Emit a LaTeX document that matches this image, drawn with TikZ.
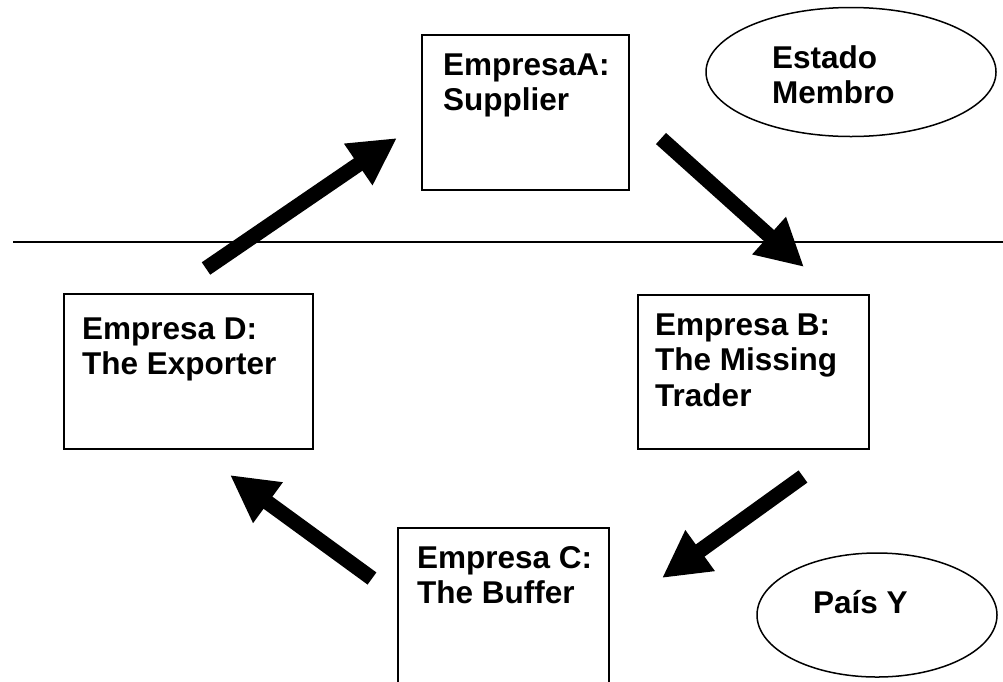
\documentclass[tikz,border=0pt]{standalone}
\usepackage{fontspec}
\setmainfont{Liberation Sans}
\usetikzlibrary{arrows.meta,shapes.geometric}
\begin{document}
\begin{tikzpicture}[x=1pt,y=-1pt,
  box/.style={draw,line width=1.5pt,inner sep=0pt,anchor=north west},
  oval/.style={draw,ellipse,line width=1.5pt,inner sep=0pt},
  lbl/.style={anchor=base west,inner sep=0pt,font=\fontsize{31.5}{35.5}\selectfont\bfseries},
  flow/.style={line width=15pt,-{Triangle[length=47pt,width=47pt]}}]
\clip (0,0) rectangle (1003,681);

% border line between the two zones
\coordinate (L) at (13,242);
\coordinate (R) at (1003,242);
\draw[line width=2pt] (L) -- (R);

% companies
\node[box,minimum width=207pt,minimum height=155pt] (A) at (421,34) {};
\node[box,minimum width=231pt,minimum height=154pt] (B) at (637,294) {};
\node[box,minimum width=211pt,minimum height=170pt] (C) at (397,527) {};
\node[box,minimum width=249pt,minimum height=155pt] (D) at (63,293) {};

\node[lbl] (Atext) at (443,75) {\vtop{\hbox{EmpresaA:}\hbox{Supplier}}};
\node[lbl] (Btext) at (655,335) {\vtop{\hbox{Empresa B:}\hbox{The Missing}\hbox{Trader}}};
\node[lbl] (Ctext) at (417,568) {\vtop{\hbox{Empresa C:}\hbox{The Buffer}}};
\node[lbl] (Dtext) at (82,339) {\vtop{\hbox{Empresa D:}\hbox{The Exporter}}};

% territories
\node[oval,minimum width=290pt,minimum height=129pt] (EM) at (851,72) {};
\node[lbl] (EMtext) at (772,68) {\vtop{\hbox{Estado}\hbox{Membro}}};
\node[oval,minimum width=240pt,minimum height=124pt] (PY) at (877,615) {};
\node[lbl] (PYtext) at (813,613) {País Y};

% flow of goods
\coordinate (d1) at (206,268.5);
\coordinate (a1) at (397,138);
\coordinate (a2) at (661,138.5);
\coordinate (b1) at (804,267);
\coordinate (b2) at (803,476.5);
\coordinate (c1) at (662,578);
\coordinate (c2) at (372,578.5);
\coordinate (d2) at (230,475);
\draw[flow] (d1) -- (a1);
\draw[flow] (a2) -- (b1);
\draw[flow] (b2) -- (c1);
\draw[flow] (c2) -- (d2);
\end{tikzpicture}
\end{document}
